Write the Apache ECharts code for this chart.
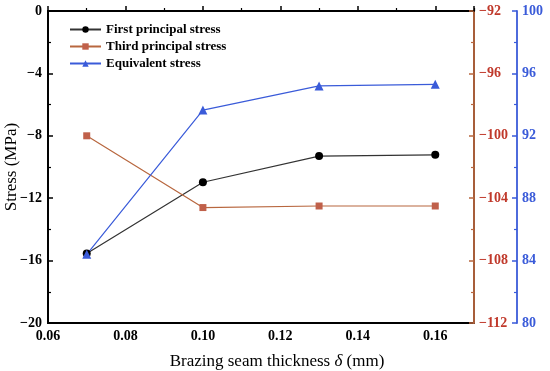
<!DOCTYPE html>
<html>
<head>
<meta charset="utf-8">
<script src="https://cdn.jsdelivr.net/npm/echarts@6/dist/echarts.min.js"></script>
<style>html,body{margin:0;padding:0;background:#fff}#c{width:550px;height:371px}</style>
</head>
<body>
<div id="c"></div>
<script>
var thickness = [0.07, 0.10, 0.13, 0.16];
var firstPrincipal = [-15.55, -10.98, -9.3, -9.22];
var thirdPrincipal = [-100.0, -104.6, -104.5, -104.5];
var equivalent = [84.4, 93.65, 95.2, 95.3];
var seriesNames = ['First principal stress', 'Third principal stress', 'Equivalent stress'];
var xTitle = 'Brazing seam thickness ';
var yTitle = 'Stress (MPa)';

var FONT = '"Liberation Serif", "Times New Roman", serif';
var BLACK = '#000000', RED_LINE = '#b8673f', RED_MARK = '#c0604a', RED_LABEL = '#c0392b', BLUE = '#3a5bd9';
function minus(v){ return String(v).replace('-', '\u2212'); }
function pairs(ys){ return thickness.map(function(x,i){ return [x, ys[i]]; }); }

var chart = echarts.init(document.getElementById('c'), null, {renderer:'canvas'});
chart.setOption({
  animation:false,
  backgroundColor:'#fff',
  grid:{left:48, right:76, top:11, bottom:48, show:true, borderColor:'#000', borderWidth:1.8,
        containLabel:false, outerBoundsMode:'none'},
  legend:{
    orient:'vertical', left:64, top:18, itemGap:4, itemWidth:31, itemHeight:8,
    textStyle:{fontFamily:FONT, fontWeight:'bold', fontSize:13, color:'#000'},
    data:seriesNames
  },
  xAxis:{
    type:'value', min:0.06, max:0.17, interval:0.02,
    axisLine:{show:true, lineStyle:{color:'#000', width:1.8}},
    axisTick:{show:true, inside:true, length:5, lineStyle:{color:'#000', width:1.5}},
    minorTick:{show:true, splitNumber:2, length:3, lineStyle:{color:'#000', width:1.2}},
    splitLine:{show:false},
    axisLabel:{fontFamily:FONT, fontWeight:'bold', fontSize:14, color:'#000', margin:6,
      formatter:function(v){ return v>0.165 ? '' : v.toFixed(2); }},
    name:'{a|' + xTitle + '}{i|δ}{a| (mm)}', nameLocation:'middle', nameGap:30,
    nameTextStyle:{padding:[0,0,0,32], rich:{
      a:{fontFamily:FONT, fontSize:17, color:'#000'},
      i:{fontFamily:FONT, fontSize:17, color:'#000', fontStyle:'italic'}}}
  },
  yAxis:[
    {
      type:'value', min:-20, max:0, interval:4, position:'left',
      axisLine:{show:true, lineStyle:{color:'#000', width:1.8}},
      axisTick:{show:true, inside:true, length:5, lineStyle:{color:'#000', width:1.5}},
      minorTick:{show:true, splitNumber:2, length:3, lineStyle:{color:'#000', width:1.2}},
      splitLine:{show:false},
      axisLabel:{fontFamily:FONT, fontWeight:'bold', fontSize:14, color:'#000', margin:6, formatter:minus}
    },
    {
      type:'value', min:-112, max:-92, interval:4, position:'right', offset:0,
      axisLine:{show:true, lineStyle:{color:RED_LINE, width:1.8}},
      axisTick:{show:true, inside:true, length:5, lineStyle:{color:RED_LINE, width:1.5}},
      minorTick:{show:true, splitNumber:2, length:3, lineStyle:{color:RED_LINE, width:1.2}},
      splitLine:{show:false},
      axisLabel:{fontFamily:FONT, fontWeight:'bold', fontSize:14, color:RED_LABEL, margin:5, formatter:minus}
    },
    {
      type:'value', min:80, max:100, interval:4, position:'right', offset:43,
      axisLine:{show:true, lineStyle:{color:BLUE, width:1.8}},
      axisTick:{show:true, inside:true, length:5, lineStyle:{color:BLUE, width:1.5}},
      minorTick:{show:true, splitNumber:2, length:3, lineStyle:{color:BLUE, width:1.2}},
      splitLine:{show:false},
      axisLabel:{fontFamily:FONT, fontWeight:'bold', fontSize:14, color:BLUE, margin:5}
    },
    {
      type:'value', min:0, max:1, position:'left', offset:0,
      axisLine:{show:false}, axisTick:{show:false}, axisLabel:{show:false}, splitLine:{show:false},
      name:yTitle, nameLocation:'middle', nameGap:28,
      nameTextStyle:{fontFamily:FONT, fontSize:17, color:'#000'}
    }
  ],
  series:[
    {name:seriesNames[0], type:'line', yAxisIndex:0, data:pairs(firstPrincipal),
     symbol:'circle', symbolSize:8, lineStyle:{color:'#333', width:1.2}, itemStyle:{color:BLACK}},
    {name:seriesNames[1], type:'line', yAxisIndex:1, data:pairs(thirdPrincipal),
     symbol:'rect', symbolSize:7, lineStyle:{color:RED_LINE, width:1.2}, itemStyle:{color:RED_MARK}},
    {name:seriesNames[2], type:'line', yAxisIndex:2, data:pairs(equivalent),
     symbol:'triangle', symbolSize:9, lineStyle:{color:BLUE, width:1.2}, itemStyle:{color:BLUE}}
  ]
});
</script>
</body>
</html>
